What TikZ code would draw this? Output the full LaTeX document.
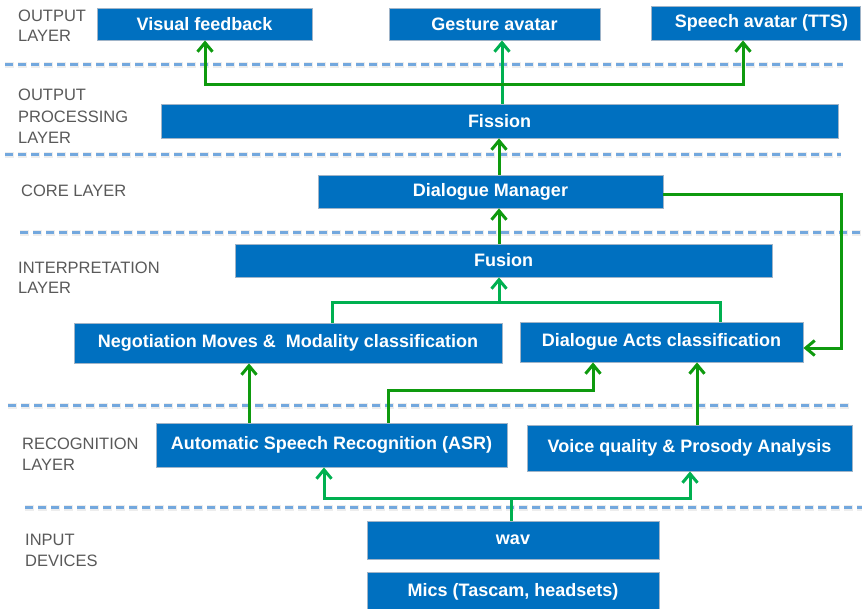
\documentclass[tikz,border=0pt]{standalone}
\usepackage{fontspec}
\setmainfont{Liberation Sans}
\usetikzlibrary{arrows.meta}
\definecolor{boxblue}{RGB}{0,112,192}
\definecolor{boxedge}{RGB}{160,180,200}
\definecolor{sepblue}{RGB}{115,168,222}
\definecolor{darkg}{RGB}{14,154,14}
\definecolor{lightg}{RGB}{0,176,80}
\definecolor{labgray}{RGB}{89,89,89}
\tikzset{
  box/.style={rectangle, fill=boxblue, draw=boxedge, line width=0.8pt, inner sep=0pt,
    text=white, font=\fontsize{18}{21}\selectfont\bfseries},
  lab/.style={anchor=base west, inner sep=0pt, text=labgray, font=\fontsize{16.5}{20}\selectfont},
  sepline/.style={draw=sepblue, line width=3pt, dash pattern=on 8pt off 5pt},
  sepshadow/.style={draw=black!7, line width=6pt, dash pattern=on 9pt off 4pt},
  dg/.style={draw=darkg, line width=3pt},
  lg/.style={draw=lightg, line width=3pt},
  arr/.style={-{Straight Barb[length=9pt,width=15pt]}}
}
\begin{document}
\begin{tikzpicture}[x=1pt,y=-1pt]
\useasboundingbox (0,0) rectangle (862,608);
% separators
\foreach \xa/\xb/\yy in {5/843/64, 5/841/154, 20/862/232, 8/852/405, 25/862/507}{
  \draw[sepshadow] (\xa-0.5,\yy+1) -- (\xb,\yy+1);
  \draw[sepline] (\xa,\yy) -- (\xb,\yy);
}
% layer labels
\node[lab] (l1a) at (18,21) {OUTPUT};
\node[lab] (l1b) at (18,41) {LAYER};
\node[lab] (l2a) at (18,100) {OUTPUT};
\node[lab] (l2b) at (18,122) {PROCESSING};
\node[lab] (l2c) at (18,143) {LAYER};
\node[lab] (l3a) at (21,196) {CORE LAYER};
\node[lab] (l4a) at (18,273) {INTERPRETATION};
\node[lab] (l4b) at (18,293) {LAYER};
\node[lab] (l5a) at (22,449) {RECOGNITION};
\node[lab] (l5b) at (22,470) {LAYER};
\node[lab] (l6a) at (25,545) {INPUT};
\node[lab] (l6b) at (25,566) {DEVICES};
% boxes
\node[box, minimum width=215pt, minimum height=32pt] (vis) at (204.5,24) {Visual feedback};
\node[box, minimum width=211pt, minimum height=32pt] (ges) at (494.5,24) {Gesture avatar};
\node[box, minimum width=209pt, minimum height=34pt] (tts) at (755.5,23) {\hspace*{12pt}Speech avatar (TTS)};
\node[box, minimum width=677pt, minimum height=34pt] (fis) at (499.5,121) {Fission};
\node[box, minimum width=345pt, minimum height=33pt] (dm) at (490.5,191.5) {Dialogue Manager};
\node[box, minimum width=537pt, minimum height=33pt] (fus) at (503.5,260.5) {Fusion};
\node[box, minimum width=428pt, minimum height=40pt] (neg) at (288,343) {Negotiation Moves \&~ Modality classification};
\node[box, minimum width=283pt, minimum height=40pt] (dac) at (661.5,342) {Dialogue Acts classification};
\node[box, minimum width=351pt, minimum height=44pt] (asr) at (331.5,445) {\raisebox{3pt}{Automatic Speech Recognition (ASR)}};
\node[box, minimum width=325pt, minimum height=46pt] (voi) at (689.5,448) {\raisebox{3pt}{Voice quality \& Prosody Analysis}};
\node[box, minimum width=292pt, minimum height=38pt] (wav) at (513,540) {wav};
\node[box, minimum width=292pt, minimum height=38pt] (mic) at (513,591.5) {Mics (Tascam, headsets)};
% helper coordinates
\coordinate (fx) at (502,84);
\coordinate (vx) at (205,84);
\coordinate (tx) at (743,84);
\coordinate (m1) at (499,0);
\coordinate (n1) at (332,302);
\coordinate (n2) at (720,302);
\coordinate (n3) at (499,302);
\coordinate (d1) at (841,348);
\coordinate (a1) at (249,0);
\coordinate (a2) at (388,390);
\coordinate (a3) at (593,390);
\coordinate (v1) at (697,0);
\coordinate (w0) at (511,498);
\coordinate (w1) at (324,498);
\coordinate (w2) at (690,498);
% connectors
\draw[lg,arr] (fx |- fis.north) -- (fx |- ges.south);
\draw[dg,arr] (fx) -- (vx) -- (vx |- vis.south);
\draw[dg,arr] (fx) -- (tx) -- (tx |- tts.south);
\draw[dg,arr] (m1 |- dm.north) -- (m1 |- fis.south);
\draw[dg,arr] (m1 |- fus.north) -- (m1 |- dm.south);
\draw[lg] (n1 |- neg.north) -- (n1) -- (n2) -- (n2 |- dac.north);
\draw[lg,arr] (n3) -- (n3 |- fus.south);
\draw[dg,arr] ([yshift=-2.5pt]dm.east) -| (d1) -- (d1 -| dac.east);
\draw[dg,arr] (a1 |- asr.north) -- (a1 |- neg.south);
\draw[dg,arr] (a2 |- asr.north) -- (a2) -- (a3) -- (a3 |- dac.south);
\draw[dg,arr] (v1 |- voi.north) -- (v1 |- dac.south);
\draw[lg] (w0 |- wav.north) -- (w0);
\draw[lg,arr] (w0) -- (w1) -- (w1 |- asr.south);
\draw[lg,arr] (w0) -- (w2) -- (w2 |- voi.south);
\end{tikzpicture}
\end{document}
